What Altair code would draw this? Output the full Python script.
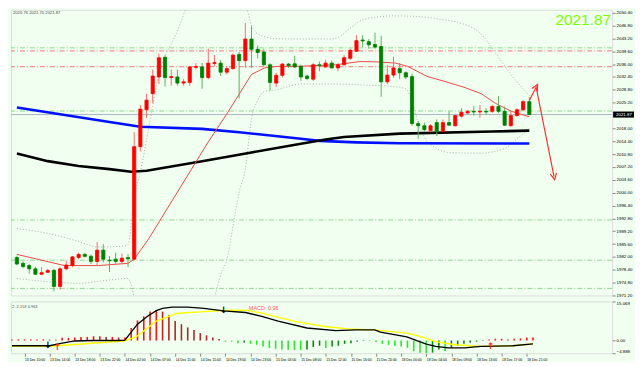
import altair as alt
import pandas as pd

# ---------------- data ----------------
opens = [1981.82, 1980.20, 1979.58, 1978.66, 1977.15, 1977.69, 1978.23, 1973.72, 1978.66, 1979.58,
         1981.82, 1982.71, 1982.17, 1980.74, 1983.90, 1981.09, 1981.36, 1980.74, 1981.82, 1981.36,
         2012.87, 2023.21, 2027.72, 2032.39, 2037.90, 2032.23, 2032.39, 2030.69, 2030.88, 2035.09,
         2035.20, 2032.23, 2036.17, 2036.28, 2033.74, 2034.74, 2038.71, 2036.98, 2043.03, 2040.14,
         2039.41, 2035.82, 2030.69, 2032.85, 2036.01, 2036.09, 2035.36, 2032.66, 2031.77, 2035.82,
         2035.20, 2036.28, 2034.93, 2035.82, 2037.63, 2039.60, 2042.76, 2042.30, 2041.49, 2040.95,
         2031.04, 2032.93, 2034.74, 2033.58, 2032.50, 2019.35, 2018.73, 2017.38, 2019.62, 2017.11,
         2019.62, 2018.73, 2021.43, 2022.32, 2022.78, 2022.59, 2022.78, 2022.78, 2024.13, 2022.78,
         2018.73, 2021.59, 2023.21, 2025.48]
highs = [1982.36, 1980.74, 1980.01, 1979.31, 1979.12, 1978.66, 1978.66, 1979.12, 1981.01, 1982.28,
         1983.17, 1983.17, 1982.71, 1986.14, 1985.60, 1982.28, 1983.17, 1982.90, 1982.71, 2016.92,
         2024.56, 2027.72, 2034.47, 2038.98, 2038.52, 2034.47, 2034.47, 2031.77, 2035.36, 2036.28,
         2036.28, 2040.33, 2038.52, 2037.17, 2035.36, 2038.98, 2039.41, 2047.51, 2046.62, 2041.22,
         2040.33, 2036.28, 2033.58, 2036.28, 2036.28, 2038.33, 2035.82, 2033.12, 2036.28, 2036.71,
         2037.17, 2036.98, 2036.28, 2038.52, 2040.33, 2044.11, 2044.11, 2043.03, 2044.81, 2043.92,
         2035.82, 2038.06, 2036.36, 2034.01, 2033.31, 2020.08, 2019.62, 2019.16, 2020.51, 2020.51,
         2022.78, 2021.86, 2023.67, 2023.21, 2024.29, 2024.56, 2023.67, 2024.56, 2027.05, 2024.13,
         2022.78, 2023.67, 2025.91, 2026.76]
lows = [1979.66, 1978.85, 1977.31, 1976.88, 1976.88, 1977.50, 1972.37, 1972.83, 1978.23, 1979.12,
        1981.36, 1981.82, 1980.01, 1979.58, 1980.47, 1977.77, 1980.01, 1980.01, 1979.12, 1981.01,
        2011.52, 2020.97, 2025.02, 2030.42, 2029.69, 2029.96, 2029.96, 2029.96, 2029.96, 2034.47,
        2029.07, 2031.77, 2035.36, 2032.66, 2033.12, 2034.47, 2026.37, 2034.93, 2034.93, 2037.63,
        2035.36, 2028.61, 2029.53, 2032.23, 2034.93, 2034.93, 2031.31, 2031.50, 2031.31, 2034.01,
        2034.93, 2034.74, 2034.01, 2035.63, 2037.17, 2039.41, 2040.76, 2040.33, 2040.33, 2026.83,
        2030.42, 2032.23, 2031.77, 2031.77, 2018.73, 2015.11, 2017.11, 2016.92, 2015.84, 2016.92,
        2018.73, 2018.54, 2020.97, 2021.86, 2021.59, 2020.97, 2021.86, 2022.32, 2022.32, 2018.73,
        2018.54, 2021.24, 2022.78, 2021.70]
closes = [1980.01, 1979.31, 1978.66, 1977.15, 1977.58, 1978.23, 1973.72, 1978.66, 1979.74, 1982.01,
          1982.71, 1982.17, 1980.74, 1983.90, 1981.36, 1980.93, 1980.74, 1981.63, 1981.47, 2012.87,
          2023.40, 2025.91, 2032.66, 2037.79, 2032.23, 2032.50, 2030.69, 2031.04, 2035.20, 2035.36,
          2032.23, 2036.28, 2036.44, 2033.74, 2034.74, 2038.52, 2036.98, 2043.03, 2040.14, 2039.25,
          2035.82, 2030.88, 2032.85, 2036.01, 2035.55, 2035.20, 2032.39, 2031.96, 2035.82, 2035.55,
          2036.28, 2034.93, 2035.82, 2037.79, 2039.87, 2042.57, 2042.49, 2041.41, 2040.76, 2031.04,
          2032.93, 2034.93, 2033.58, 2032.39, 2019.35, 2018.73, 2017.65, 2018.73, 2017.11, 2019.62,
          2018.89, 2021.59, 2022.51, 2022.78, 2022.59, 2022.78, 2022.59, 2024.13, 2022.78, 2018.89,
          2021.59, 2023.21, 2025.48, 2021.87]

# moving averages (bar index, price)
blue_idx = [0, 15, 20, 30, 36, 46, 49, 55, 62, 83]
blue_val = [2023.86, 2019.76, 2018.46, 2017.87, 2016.92, 2015.11, 2014.49, 2014.09, 2013.82, 2013.76]
black_idx = [0, 5, 10, 15, 18.5, 21, 30, 38, 46, 50, 53, 62, 77, 83]
black_val = [2010.98, 2008.82, 2007.47, 2006.58, 2005.85, 2006.12, 2008.82, 2011.25, 2013.68,
             2014.90, 2015.57, 2016.52, 2017.11, 2017.38]
red_idx = [0, 7.7, 13.2, 18, 19, 21.4, 31, 34.1, 38, 40.1, 42.1, 46, 51.6, 55.6, 58.3, 61.3, 63.3,
           66.4, 69.8, 72.4, 75.2, 77.5, 80.1, 83]
red_val = [1982.71, 1979.58, 1979.58, 1980.20, 1981.36, 1987.22, 2014.22, 2022.32, 2033.12, 2034.93,
           2035.36, 2035.41, 2035.82, 2036.71, 2036.63, 2036.28, 2035.36, 2032.58, 2030.88, 2029.53,
           2027.72, 2025.02, 2022.78, 2021.24]

# Bollinger bands
upper_idx = [0, 5, 10, 13, 17, 18, 19, 20, 21, 22, 23, 24, 25, 26, 27, 28, 30, 34, 36, 37, 38, 39,
             42, 46, 51, 52, 54, 56, 59, 61, 65, 69, 72, 75, 78, 80, 82, 83]
upper_val = [1989.92, 1988.57, 1986.33, 1984.79, 1984.98, 1985.41, 1998.83, 2005.85, 2014.76,
             2024.21, 2033.12, 2038.25, 2041.76, 2045.27, 2049.86, 2054.18, 2058.77, 2061.20,
             2057.96, 2053.37, 2046.89, 2044.46, 2043.11, 2043.03, 2043.03, 2043.46, 2046.08,
             2048.43, 2049.32, 2049.51, 2049.32, 2048.43, 2047.43, 2044.73, 2037.98, 2033.12,
             2029.07, 2027.18]
lower_idx = [0, 5, 10, 15, 18, 19, 20, 21, 22, 23, 25, 28, 30, 32, 33, 34, 35, 36, 37, 38, 39, 40,
             42, 46, 51, 55, 62, 63, 64, 65, 66, 68, 70, 75, 79, 81, 83]
lower_val = [1975.96, 1975.07, 1974.61, 1975.53, 1975.96, 1970.75, 1962.92, 1958.33, 1954.01,
             1952.12, 1952.12, 1954.28, 1958.87, 1970.48, 1976.96, 1981.28, 1990.46, 2000.18,
             2006.66, 2020.70, 2025.83, 2028.26, 2028.80, 2030.42, 2030.42, 2030.23, 2029.53,
             2029.07, 2025.56, 2019.62, 2015.57, 2012.33, 2011.25, 2011.06, 2012.33, 2015.03,
             2018.00]

# horizontal levels
green_levels = [2040.55, 2022.86, 1992.35, 1981.09, 1973.18]
red_levels = [2039.68, 2035.28]
last_price = 2021.87

# hand drawn forecast arrow
fc_idx = [83, 84.1, 87.0]
fc_val = [2025.83, 2029.53, 2004.50]

# MACD panel
hist_vals = [0.44, 0.44, 0.44, 0.44, 0.44, 0.44, 0.33, 0.33, 1.02, 1.02,
             1.17, 1.39, 1.39, 1.65, 1.65, 1.39, 1.39, 1.17, 1.17, 4.83,
             7.76, 9.33, 11.16, 11.79, 11.16, 9.70, 7.50, 6.30, 5.05, 4.10,
             2.85, 2.01, 1.17, 0.55, -0.44, -0.44, -1.02, -0.81, -1.28, -1.65,
             -2.27, -2.85, -3.22, -3.48, -3.59, -3.66, -3.66, -3.51, -2.49, -2.01,
             -2.85, -2.27, -2.01, -1.28, -1.02, -0.44, -0.18, -0.18, -0.55, -1.28,
             -1.65, -2.01, -2.27, -2.85, -4.10, -4.68, -4.80, -4.68, -3.48, -4.10,
             -2.85, -2.01, -1.28, -0.81, -0.44, -0.18, 0.37, 0.66, 0.66, 0.44,
             0.66, 0.81, 1.17, 1.17]
macd_idx = [0, 6, 8, 10, 13, 17, 18, 19, 20, 21.6, 23, 24, 25.5, 28, 30.6, 33.7, 37.2, 39.8, 42.4,
            47, 51.6, 54.7, 57.8, 58.7, 62.9, 66, 67.5, 69.5, 72.1, 74.7, 79.8, 83]
macd_val = [-2.01, -2.01, -1.02, -0.18, 0.0, 0.0, 0.18, 3.22, 6.30, 9.33, 11.53, 12.37, 12.88,
            12.88, 12.37, 11.42, 10.80, 9.33, 7.50, 4.83, 3.84, 4.10, 4.10, 3.22, 1.39, -1.39,
            -2.27, -2.85, -2.85, -2.27, -2.01, -1.28]
sig_idx = [0, 6, 17.8, 19.8, 23, 26.4, 30.6, 33.7, 37.2, 39.8, 44.9, 50.1, 53.6, 57.8, 62.9, 64.4,
           66, 67.5, 70.5, 74.7, 79.8, 83]
sig_val = [-2.20, -2.20, -0.18, 1.39, 7.50, 10.54, 11.16, 11.60, 11.71, 10.54, 7.50, 5.31, 4.47,
           4.10, 2.85, 2.01, 0.81, -0.44, -1.65, -2.27, -2.01, -1.28]
down_arrow_idx = [6, 34]
down_arrow_val = [-1.65, 11.90]
up_arrow_idx = [7, 76]
up_arrow_val = [-2.38, -2.27]

price_ticks = [2050.40, 2046.80, 2043.20, 2039.60, 2036.00, 2032.40, 2028.80, 2025.20, 2018.00,
               2014.40, 2010.80, 2007.20, 2003.60, 2000.00, 1996.40, 1992.80, 1989.20, 1985.60,
               1982.00, 1978.40, 1974.80, 1971.20]
macd_ticks = [15.069, 0.0, -4.888]
time_tick_idx = [2, 6, 10, 14, 18, 22, 26, 30, 34, 38, 42, 46, 50, 54, 58, 62, 66, 70, 74, 78, 82]
time_tick_labels = ["13 Dec 10:00", "13 Dec 14:00", "13 Dec 18:00", "13 Dec 22:00",
                    "14 Dec 02:00", "14 Dec 07:00", "14 Dec 11:00", "14 Dec 15:00",
                    "14 Dec 19:00", "14 Dec 23:00", "15 Dec 03:00", "15 Dec 08:00",
                    "15 Dec 12:00", "15 Dec 16:00", "15 Dec 20:00", "18 Dec 00:00",
                    "18 Dec 04:00", "18 Dec 09:00", "18 Dec 13:00", "18 Dec 17:00",
                    "18 Dec 21:00"]
info_text = "2026.76 2021.70 2021.87"
macd_info = "2 -2.153 0.963"
macd_title = "MACD:  0.96"

# ---------------- chart ----------------
W, H1, H2 = 604, 287, 52
FONT = "Liberation Sans"
xs = alt.Scale(domain=[-0.15, 95.6], nice=False, zero=False)
ys = alt.Scale(domain=[1971.2, 2051.2], nice=False, zero=False)
ms = alt.Scale(domain=[-4.888, 15.069], nice=False, zero=False)

yaxis = alt.Axis(orient="right", values=price_ticks, format=".2f", tickSize=3, labelPadding=1,
                 domain=False, title=None, labelFontSize=4.4, labelOverlap=False, grid=False,
                 labelFlush=False)
maxis = alt.Axis(orient="right", values=macd_ticks, tickSize=3, labelPadding=1, domain=False,
                 title=None, labelFontSize=4.4, labelOverlap=False, grid=False, labelFlush=False,
                 labelExpr="datum.value == 0 ? '0.00' : format(datum.value, '.3f')",
                 labelBaseline={"condition": [{"test": "datum.value > 10", "value": "top"},
                                              {"test": "datum.value < -4", "value": "bottom"}],
                                "value": "middle"})
lab_arr = "[" + ",".join("'%s'" % s for s in time_tick_labels) + "]"
xaxis = alt.Axis(values=time_tick_idx, labelExpr=lab_arr + "[round((datum.value - 2) / 4)]",
                 labelAlign="left", tickSize=3, labelPadding=1, domain=False, title=None,
                 labelFontSize=3.4, labelOverlap=False, labelFlush=False, grid=False)


def X(f):
    return alt.X(f, type="quantitative", scale=xs, axis=None)


def XM(f):
    return alt.X(f, type="quantitative", scale=xs, axis=xaxis)


def Y(f):
    return alt.Y(f, type="quantitative", scale=ys, axis=yaxis)


def YM(f):
    return alt.Y(f, type="quantitative", scale=ms, axis=maxis)


candles = pd.DataFrame({"i": list(range(len(opens))), "open": opens, "high": highs,
                        "low": lows, "close": closes})
candles["dir"] = ["up" if c >= o else "down" for o, c in zip(opens, closes)]
candles["blo"] = candles[["open", "close"]].min(axis=1)
candles["bhi"] = candles[["open", "close"]].max(axis=1)


def line_df(ix, v):
    return pd.DataFrame({"i": ix, "v": v})


lv_g = alt.Chart(pd.DataFrame({"p": green_levels})).mark_rule(
    color="#8ED98E", strokeWidth=1, strokeDash=[5, 2, 1, 2]).encode(y=Y("p"))
lv_r = alt.Chart(pd.DataFrame({"p": red_levels})).mark_rule(
    color="#F39494", strokeWidth=1.2, strokeDash=[5, 2, 1, 2]).encode(y=Y("p"))
cur = alt.Chart(pd.DataFrame({"p": [last_price]})).mark_rule(
    color="#A9B6C4", strokeWidth=1).encode(y=Y("p"))

band_u = alt.Chart(line_df(upper_idx, upper_val)).mark_line(
    color="#A6A6A6", strokeWidth=0.9, strokeDash=[1, 2], clip=True, interpolate="monotone"
).encode(x=X("i"), y=Y("v"))
band_l = alt.Chart(line_df(lower_idx, lower_val)).mark_line(
    color="#A6A6A6", strokeWidth=0.9, strokeDash=[1, 2], clip=True, interpolate="monotone"
).encode(x=X("i"), y=Y("v"))

ma_blue = alt.Chart(line_df(blue_idx, blue_val)).mark_line(
    color="#0010FF", strokeWidth=2.6, clip=True).encode(x=X("i"), y=Y("v"))
ma_black = alt.Chart(line_df(black_idx, black_val)).mark_line(
    color="#000000", strokeWidth=2.6, clip=True).encode(x=X("i"), y=Y("v"))
ma_red = alt.Chart(line_df(red_idx, red_val)).mark_line(
    color="#F04848", strokeWidth=1, clip=True).encode(x=X("i"), y=Y("v"))

up_test = "datum.dir == 'up'"
wicks = alt.Chart(candles).mark_rule(strokeWidth=1).encode(
    x=X("i"), y=Y("low"), y2="high",
    color=alt.condition(up_test, alt.value("#FF6A6A"), alt.value("#62B062")))
bodies = alt.Chart(candles).mark_bar(size=3.2, strokeWidth=0.8).encode(
    x=X("i"), y=Y("blo"), y2="bhi",
    fill=alt.condition(up_test, alt.value("#FF0000"), alt.value("#008000")),
    stroke=alt.condition(up_test, alt.value("#FF0000"), alt.value("#008000")))

fc_df = line_df(fc_idx, fc_val)
fc_line = alt.Chart(fc_df).mark_line(color="#FF3030", strokeWidth=1.2, clip=True).encode(
    x=X("i"), y=Y("v"))
chev = "M-1,1L0,-1L1,1"
fc_head1 = alt.Chart(fc_df.iloc[[1]]).mark_point(
    shape=chev, filled=False, color="#FF3030", strokeWidth=1.2, size=40, angle=28, opacity=1
).encode(x=X("i"), y=Y("v"))
fc_head2 = alt.Chart(fc_df.iloc[[2]]).mark_point(
    shape=chev, filled=False, color="#FF3030", strokeWidth=1.2, size=40, angle=168, opacity=1
).encode(x=X("i"), y=Y("v"))

box_df = pd.DataFrame({"p": [last_price], "lo": [last_price - 0.85], "hi": [last_price + 0.85],
                       "t": ["%.2f" % last_price]})
pbox = alt.Chart(box_df).mark_rect(color="#000000", clip=False).encode(
    x=alt.value(W + 1), x2=alt.value(W + 22), y=Y("lo"), y2="hi")
ptxt = alt.Chart(box_df).mark_text(color="#FFFFFF", fontSize=4.4, align="left",
                                   baseline="middle", font=FONT).encode(
    x=alt.value(W + 4), y=Y("p"), text="t:N")

big = alt.Chart(pd.DataFrame({"t": ["%.2f" % last_price]})).mark_text(
    color="#7CFC00", fontSize=15.5, align="right", baseline="middle", font=FONT).encode(
    x=alt.value(W - 1), y=alt.value(10), text="t:N")
info = alt.Chart(pd.DataFrame({"t": [info_text]})).mark_text(
    color="#505050", fontSize=4.2, align="left", baseline="middle", font=FONT).encode(
    x=alt.value(2), y=alt.value(3), text="t:N")

main = alt.layer(lv_g, lv_r, cur, band_u, band_l, ma_blue, ma_black, ma_red, wicks, bodies,
                 fc_line, fc_head1, fc_head2, pbox, ptxt, big, info).properties(width=W, height=H1)

# MACD
prev = [hist_vals[0]] + hist_vals[:-1]
kinds = []
for v, p in zip(hist_vals, prev):
    if v >= 0:
        kinds.append("pos_up" if v >= p else "pos_dn")
    else:
        kinds.append("neg_dn" if v <= p else "neg_up")
hist_df = pd.DataFrame({"i": list(range(len(hist_vals))), "h": hist_vals, "z": 0.0, "k": kinds})
hist = alt.Chart(hist_df).mark_rule(strokeWidth=1.6).encode(
    x=XM("i"), y=YM("h"), y2="z",
    color=alt.Color("k:N", legend=None,
                    scale=alt.Scale(domain=["pos_up", "pos_dn", "neg_dn", "neg_up"],
                                    range=["#FF1010", "#B02828", "#28E828", "#0A8A0A"])))
macd_line = alt.Chart(line_df(macd_idx, macd_val)).mark_line(
    color="#000000", strokeWidth=1.3).encode(x=XM("i"), y=YM("v"))
sig_line = alt.Chart(line_df(sig_idx, sig_val)).mark_line(
    color="#FFFF00", strokeWidth=1.4).encode(x=XM("i"), y=YM("v"))
down_df = pd.DataFrame({"i": down_arrow_idx, "v": down_arrow_val, "t": ["\u2193"] * len(down_arrow_idx)})
up_df = pd.DataFrame({"i": up_arrow_idx, "v": up_arrow_val, "t": ["\u2191"] * len(up_arrow_idx)})
arrows_dn = alt.Chart(down_df).mark_text(fontSize=9, fontWeight="bold", baseline="middle",
                                         font="DejaVu Sans", color="#000000", dx=-1.6).encode(
    x=XM("i"), y=YM("v"), text="t:N")
arrows_up = alt.Chart(up_df).mark_text(fontSize=9, fontWeight="bold", baseline="middle",
                                       font="DejaVu Sans", color="#FF1A1A", dx=1.6).encode(
    x=XM("i"), y=YM("v"), text="t:N")
minfo = alt.Chart(pd.DataFrame({"t": [macd_info]})).mark_text(
    color="#505050", fontSize=4, align="left", baseline="middle", font=FONT).encode(
    x=alt.value(1), y=alt.value(6), text="t:N")
mtitle = alt.Chart(pd.DataFrame({"t": [macd_title]})).mark_text(
    color="#FF5A5A", fontSize=5.5, align="left", baseline="middle", font=FONT).encode(
    x=alt.value(239), y=alt.value(6.5), text="t:N")

macd = alt.layer(hist, sig_line, macd_line, arrows_dn, arrows_up, minfo, mtitle).properties(
    width=W, height=H2)

chart = alt.vconcat(main, macd, spacing=2).properties(
    background="#F0FFF0", padding=0
).configure_view(stroke="#6E6E6E", strokeWidth=1).configure_axis(
    labelFont=FONT, labelColor="#1E1E1E", tickColor="#555555"
).configure(font=FONT)

chart.save("out.html", embed_options={"renderer": "svg", "actions": False})
